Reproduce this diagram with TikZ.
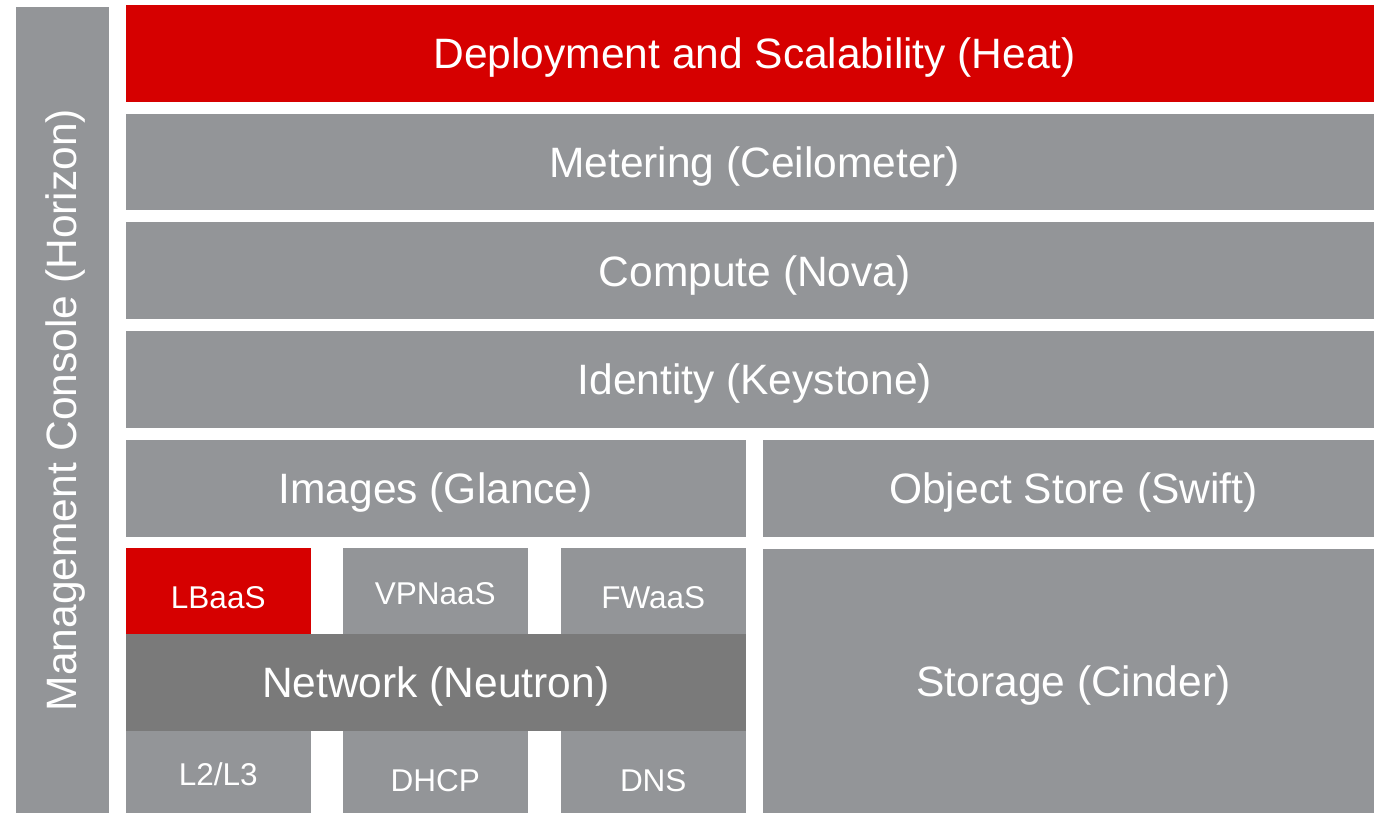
\documentclass[tikz,border=0pt]{standalone}
\usepackage{fontspec}
\setmainfont{Liberation Sans}

\definecolor{osred}{RGB}{214,0,0}
\definecolor{osgray}{RGB}{147,149,152}
\definecolor{osdark}{RGB}{122,122,122}

\tikzstyle{tile}=[anchor=north west,fill=osgray,text=white,inner sep=0pt,outer sep=0pt,font=\fontsize{42.5}{50}\selectfont]
\tikzstyle{layer}=[tile,minimum height=96.7pt,text depth=0pt]
\tikzstyle{svc}=[tile,minimum width=185.5pt,minimum height=85.4pt,font=\fontsize{31.5}{38}\selectfont,text depth=0pt]
\tikzstyle{up}=[text height=26.6pt]
\tikzstyle{mid}=[text height=35.6pt]
\tikzstyle{low}=[text height=39.6pt]

\begin{document}
\begin{tikzpicture}[x=1pt, y=-1pt]
		\useasboundingbox (0,0) rectangle (1374,813);

		\node [tile,minimum width=93pt,minimum height=806pt] (horizon) at (16,7) {};
		\node [rotate=90,anchor=base,text=white,font=\fontsize{42.5}{50}\selectfont]
		      (horizontext) at ([xshift=13.5pt]horizon.center) {Management Console (Horizon)};

		\node [layer,fill=osred,minimum width=1258.5pt] (heat)       at (125.5,5)      {Deployment and Scalability (Heat)};
		\node [layer,minimum width=1258.5pt]            (ceilometer) at (125.5,113.75) {Metering (Ceilometer)};
		\node [layer,minimum width=1258.5pt]            (nova)       at (125.5,222.5)  {Compute (Nova)};
		\node [layer,minimum width=1258.5pt]            (keystone)   at (125.5,331.25) {Identity (Keystone)};
		\node [layer,minimum width=620.5pt]             (glance)     at (125.5,440)    {Images (Glance)};
		\node [layer,minimum width=621pt]               (swift)      at (763,440)      {Object Store (Swift)};

		\node [svc,mid,fill=osred] (lbaas)  at (125.5,548.3) {LBaaS};
		\node [svc,up]             (vpnaas) at (342.5,548.3) {VPNaaS};
		\node [svc,mid]            (fwaas)  at (560.5,548.3) {FWaaS};

		\node [layer,fill=osdark,minimum width=620.5pt,minimum height=97pt] (neutron) at (125.5,633.7) {Network (Neutron)};

		\node [svc,up,minimum height=82.3pt]  (l2l3) at (125.5,730.7) {L2/L3};
		\node [svc,low,minimum height=82.3pt] (dhcp) at (342.5,730.7) {DHCP};
		\node [svc,low,minimum height=82.3pt] (dns)  at (560.5,730.7) {DNS};

		\node [layer,minimum width=621pt,minimum height=264.5pt] (cinder) at (763,548.5) {Storage (Cinder)};
	\end{tikzpicture}
\end{document}
